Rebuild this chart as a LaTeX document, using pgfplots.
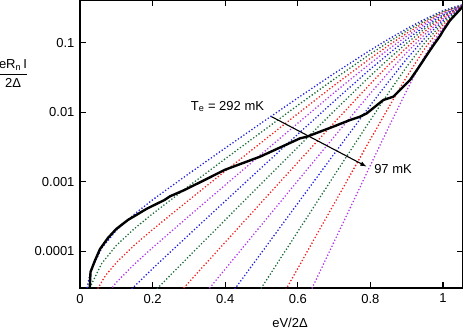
\documentclass[border=0pt]{standalone}
\usepackage{fontspec}
\setmainfont{Liberation Sans}
\usepackage{pgfplots}
\pgfplotsset{compat=1.18}
\definecolor{cblue}{HTML}{2020D8}
\definecolor{cgreen}{HTML}{1A6A38}
\definecolor{cred}{HTML}{F02020}
\definecolor{cviol}{HTML}{B038E6}
\tikzset{dl/.style={line width=1.8pt, dash pattern=on 0pt off 3.3pt, line cap=round}}

\begin{document}
\fontsize{13}{15}\selectfont
\begin{tikzpicture}
\begin{axis}[
    scale only axis, width=383pt, height=288pt,
    xmin=0, xmax=1.055, ymin=-4.53, ymax=-0.385,
    xtick={0,0.2,0.4,0.6,0.8,1}, xticklabels={0,0.2,0.4,0.6,0.8,1},
    ytick={-4,-3,-2,-1}, yticklabels={0.0001,0.001,0.01,0.1},
    tick align=inside, major tick length=6pt,
    axis line style={line width=1.2pt},
    tick style={line width=1.2pt, black},
    every tick label/.append style={font=\fontsize{13}{15}\selectfont},
    yticklabel style={xshift=-1pt},
    xticklabel style={yshift=-1.5pt},
]
\coordinate (sw) at (rel axis cs:0,0);
\coordinate (ne) at (rel axis cs:1,1);
% 292 mK
\addplot[dl, cblue] coordinates {(0.01,-4.752) (0.03,-4.270) (0.06,-3.955) (0.1,-3.701) (0.15,-3.466) (0.2,-3.261) (0.3,-2.884) (0.4,-2.516) (0.5,-2.154) (0.6,-1.794) (0.7,-1.443) (0.8,-1.106) (0.85,-0.948) (0.9,-0.798) (0.95,-0.661) (1.0,-0.538) (1.03,-0.49) (1.055,-0.45)};
\addplot[dl, cgreen] coordinates {(0.015,-4.798) (0.03,-4.495) (0.06,-4.176) (0.1,-3.918) (0.15,-3.674) (0.2,-3.462) (0.3,-3.062) (0.4,-2.671) (0.5,-2.285) (0.6,-1.900) (0.7,-1.524) (0.8,-1.160) (0.85,-0.991) (0.9,-0.829) (0.95,-0.683) (1.0,-0.552) (1.03,-0.50) (1.055,-0.455)};
\addplot[dl, cred] coordinates {(0.02,-4.927) (0.04,-4.617) (0.07,-4.352) (0.1,-4.165) (0.15,-3.912) (0.2,-3.689) (0.3,-3.264) (0.4,-2.847) (0.5,-2.433) (0.6,-2.021) (0.7,-1.614) (0.8,-1.224) (0.85,-1.039) (0.9,-0.864) (0.95,-0.706) (1.0,-0.566) (1.03,-0.51) (1.055,-0.458)};
\addplot[dl, cviol] coordinates {(0.04,-4.909) (0.06,-4.718) (0.1,-4.449) (0.15,-4.186) (0.2,-3.949) (0.3,-3.496) (0.4,-3.048) (0.5,-2.602) (0.6,-2.158) (0.7,-1.719) (0.8,-1.295) (0.85,-1.094) (0.9,-0.906) (0.95,-0.733) (1.0,-0.582) (1.03,-0.52) (1.055,-0.46)};
\addplot[dl, cblue] coordinates {(0.1,-4.779) (0.13,-4.608) (0.2,-4.251) (0.3,-3.763) (0.4,-3.279) (0.5,-2.797) (0.6,-2.317) (0.7,-1.841) (0.8,-1.378) (0.85,-1.160) (0.9,-0.952) (0.95,-0.764) (1.0,-0.598) (1.03,-0.53) (1.055,-0.463)};
\addplot[dl, cgreen] coordinates {(0.15,-4.876) (0.2,-4.605) (0.3,-4.076) (0.4,-3.550) (0.5,-3.026) (0.6,-2.503) (0.7,-1.983) (0.8,-1.476) (0.85,-1.234) (0.9,-1.006) (0.95,-0.798) (1.0,-0.617) (1.03,-0.54) (1.055,-0.466)};
\addplot[dl, cred] coordinates {(0.25,-4.735) (0.3,-4.447) (0.4,-3.871) (0.5,-3.296) (0.6,-2.722) (0.7,-2.151) (0.8,-1.591) (0.85,-1.320) (0.9,-1.068) (0.95,-0.836) (1.0,-0.636) (1.03,-0.55) (1.055,-0.47)};
\addplot[dl, cviol] coordinates {(0.3,-4.894) (0.4,-4.257) (0.5,-3.621) (0.6,-2.986) (0.7,-2.354) (0.8,-1.728) (0.85,-1.427) (0.9,-1.141) (0.95,-0.880) (1.0,-0.658) (1.03,-0.56) (1.055,-0.473)};
\addplot[dl, cblue] coordinates {(0.4,-4.732) (0.5,-4.021) (0.6,-3.310) (0.7,-2.601) (0.8,-1.899) (0.85,-1.558) (0.9,-1.233) (0.95,-0.933) (1.0,-0.682) (1.03,-0.575) (1.055,-0.476)};
\addplot[dl, cgreen] coordinates {(0.45,-4.928) (0.5,-4.525) (0.6,-3.718) (0.7,-2.912) (0.8,-2.113) (0.85,-1.720) (0.9,-1.344) (0.95,-0.999) (1.0,-0.710) (1.03,-0.59) (1.055,-0.48)};
\addplot[dl, cred] coordinates {(0.55,-4.713) (0.6,-4.247) (0.7,-3.316) (0.8,-2.389) (0.85,-1.932) (0.9,-1.488) (0.95,-1.080) (1.0,-0.741) (1.03,-0.605) (1.055,-0.483)};
% 97 mK
\addplot[dl, cviol] coordinates {(0.62,-4.744) (0.7,-3.863) (0.8,-2.764) (0.85,-2.218) (0.9,-1.686) (0.95,-1.188) (1.0,-0.777) (1.03,-0.62) (1.055,-0.486)};
% measured
\addplot[black, line width=2.4pt, line join=round] coordinates {(0.026,-4.60) (0.027,-4.51) (0.029,-4.30) (0.040,-4.15) (0.055,-3.97) (0.077,-3.81) (0.10,-3.68) (0.132,-3.551) (0.185,-3.386) (0.233,-3.263) (0.248,-3.21) (0.288,-3.119) (0.3435,-2.975) (0.3986,-2.830) (0.4353,-2.758) (0.4959,-2.640) (0.6061,-2.376) (0.6245,-2.353) (0.697,-2.209) (0.744,-2.112) (0.771,-2.065) (0.790,-2.016) (0.8355,-1.824) (0.863,-1.777) (0.8906,-1.633) (0.909,-1.537) (0.931,-1.37) (0.955,-1.18) (0.973,-1.04) (0.992,-0.90) (1.001,-0.82) (1.019,-0.68) (1.056,-0.47)};
\draw[-latex, line width=1.1pt] (axis cs:0.528,-2.065) -- (axis cs:0.789,-2.781);
\node[anchor=base west, inner sep=0pt] at (axis cs:0.305,-1.969) {T\textsubscript{e} = 292 mK};
\node[anchor=base west, inner sep=0pt] at (axis cs:0.81,-2.88) {97 mK};
\end{axis}
\node at ([xshift=-67pt,yshift=213pt]sw) {\setlength{\arrayrulewidth}{0.8pt}\begin{tabular}{@{}c@{}}eR\textsubscript{n}\,I\\[1pt]\hline\rule{0pt}{13pt}2Δ\end{tabular}};
\node at ([xshift=210pt,yshift=-35pt]sw) {eV/2Δ};
\pgfresetboundingbox
\path ([xshift=-80pt,yshift=-42pt]sw) rectangle (ne);
\end{tikzpicture}
\end{document}
